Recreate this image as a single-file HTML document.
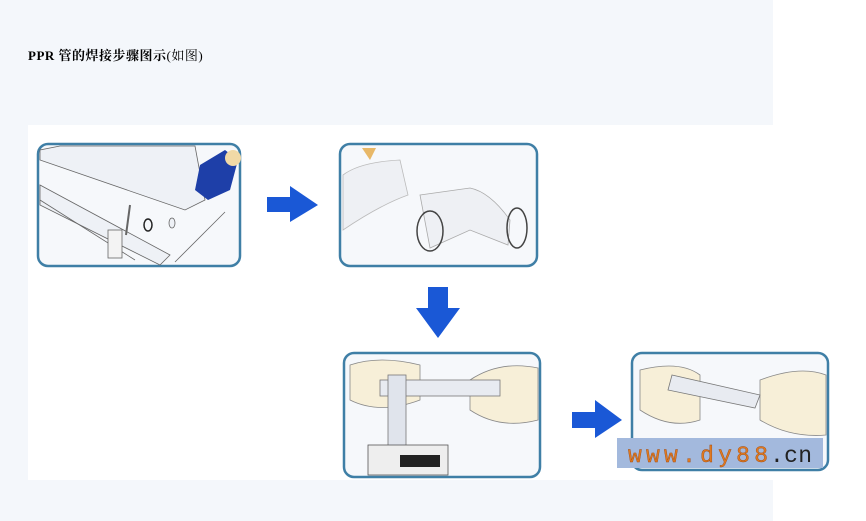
<!DOCTYPE html>
<html><head><meta charset="utf-8"><style>
html,body{margin:0;padding:0;width:866px;height:521px;overflow:hidden;background:#fff}
.bg{position:absolute;left:0;top:0;width:773px;height:521px;background:#f4f7fb}
.t{position:absolute;left:28px;top:45px;font:bold 13px "Liberation Serif","Noto Serif CJK SC",serif;color:#000;letter-spacing:0.5px}
.t span{font-weight:normal}
svg{position:absolute;left:0;top:0}
</style></head><body>
<div class="bg"></div>
<div class="t">PPR 管的焊接步骤图示<span>(如图)</span></div>
<svg width="866" height="521">
<rect x="28" y="125" width="808" height="355" fill="#fff"/>
<g stroke="#3f7fa6" stroke-width="2.5" fill="#f6f8fb">
<rect x="38" y="144" width="202" height="122" rx="10"/>
<rect x="340" y="144" width="197" height="122" rx="10"/>
<rect x="344" y="353" width="196" height="124" rx="10"/>
<rect x="632" y="353" width="196" height="117" rx="10"/>
</g>
<g stroke="#666" stroke-width="0.8" fill="#eef1f6">
<polygon points="60,146 195,146 205,200 185,210 40,160 40,150"/>
<polygon points="40,185 170,255 160,265 40,205"/>
<line x1="40" y1="200" x2="135" y2="260"/>
<rect x="108" y="230" width="14" height="28" fill="#f3f3f3"/>
<line x1="130" y1="205" x2="126" y2="235" stroke-width="2"/>
<ellipse cx="148" cy="225" rx="4" ry="6" fill="none" stroke="#222" stroke-width="1.5"/>
<ellipse cx="172" cy="223" rx="3" ry="5"/>
<line x1="175" y1="262" x2="225" y2="212"/>
</g>
<polygon points="200,165 225,150 238,160 230,190 208,200 195,190" fill="#1e3fa8"/>
<ellipse cx="233" cy="158" rx="8" ry="8" fill="#f1d9a6"/>
<path d="M343,175 Q360,162 400,160 L408,195 Q380,205 343,230 Z" fill="#eef0f4" stroke="#bbb" stroke-width="0.8"/>
<polygon points="362,148 376,148 370,160" fill="#e8b868"/>
<path d="M420,195 L470,188 Q490,192 510,220 L508,245 L470,230 L430,248 Z" fill="#eef0f4" stroke="#aaa" stroke-width="0.8"/>
<ellipse cx="430" cy="231" rx="13" ry="20" fill="none" stroke="#444" stroke-width="1.5"/>
<ellipse cx="517" cy="228" rx="10" ry="20" fill="none" stroke="#444" stroke-width="1.5"/>
<g fill="#f7efd8" stroke="#888" stroke-width="0.8">
<path d="M350,365 Q380,355 420,365 L420,400 Q380,415 350,400 Z"/>
<path d="M470,380 Q500,360 538,368 L538,420 Q500,430 470,410 Z"/>
</g>
<rect x="380" y="380" width="120" height="16" fill="#e8ebf1" stroke="#777" stroke-width="0.8"/>
<rect x="388" y="375" width="18" height="90" fill="#e0e4ec" stroke="#777" stroke-width="0.8"/>
<rect x="368" y="445" width="80" height="30" fill="#eee" stroke="#555" stroke-width="0.8"/>
<rect x="400" y="455" width="40" height="12" fill="#222"/>
<g fill="#f7efd8" stroke="#888" stroke-width="0.8">
<path d="M640,370 Q680,360 700,375 L700,420 Q670,430 640,410 Z"/>
<path d="M760,380 Q800,365 826,375 L826,435 Q790,438 760,420 Z"/>
</g>
<path d="M672,375 L760,395 L755,408 L668,390 Z" fill="#e8ebf1" stroke="#777" stroke-width="0.8"/>
<rect x="617" y="438" width="206" height="30" fill="#a3b9dd"/>
<text x="628" y="462" font-family="Liberation Mono,monospace" font-size="23" fill="#e07a20" stroke="#a04a10" stroke-width="0.4" textLength="140" lengthAdjust="spacing">www.dy88</text>
<text x="770" y="462" font-family="Liberation Mono,monospace" font-size="23" fill="#222" textLength="42" lengthAdjust="spacing">.cn</text>
<g fill="#1a58d6">
<polygon points="267,197 290,197 290,186 318,205 290,222 290,212 267,212"/>
<polygon points="428,287 448,287 448,308 460,308 438,338 416,308 428,308"/>
<polygon points="572,412 595,412 595,400 622,420 595,438 595,428 572,428"/>
</g>
</svg>
</body></html>
